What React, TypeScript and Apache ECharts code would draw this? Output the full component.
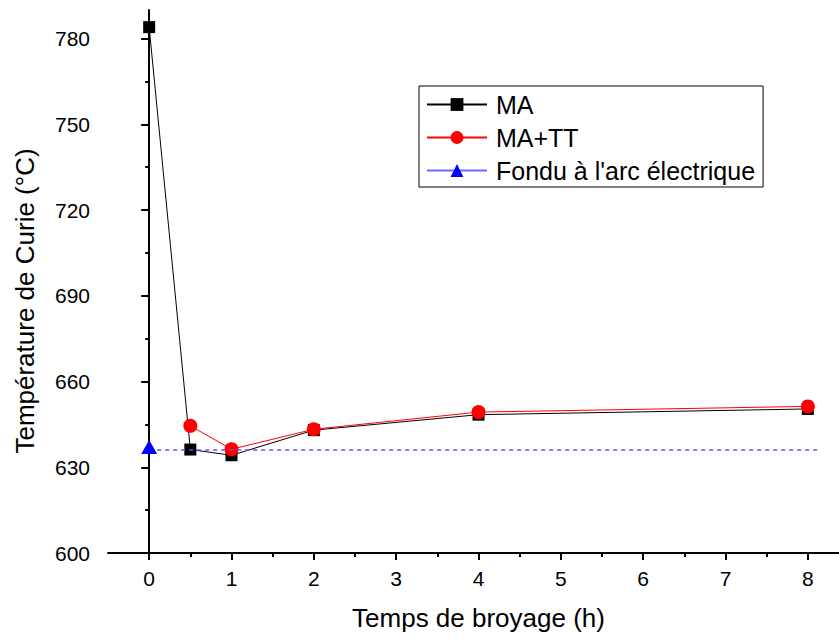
import React, { useEffect, useRef } from "react";
import * as echarts from "echarts";

const xTicks = [0, 1, 2, 3, 4, 5, 6, 7, 8];
const xMinorTicks = [0.5, 1.5, 2.5, 3.5, 4.5, 5.5, 6.5, 7.5];
const yTicks = [600, 630, 660, 690, 720, 750, 780];
const yMinorTicks = [615, 645, 675, 705, 735, 765];

const maX = [0, 0.5, 1, 2, 4, 8];
const maY = [784, 636.2, 634.2, 643, 648.4, 650.4];

const mattX = [0.5, 1, 2, 4, 8];
const mattY = [644.5, 636.3, 643.3, 649.3, 651.3];

const fonduX = [0, 8.12];
const fonduY = [636, 636];

const seriesNames = ["MA", "MA+TT", "Fondu à l'arc électrique"];
const xTitle = "Temps de broyage (h)";
const yTitle = "Température de Curie (°C)";

const FONT = "'Liberation Sans', Arial, sans-serif";

export default function App() {
  const ref = useRef<HTMLDivElement>(null);

  useEffect(() => {
    if (!ref.current) return;
    const chart = echarts.init(ref.current, null, { renderer: "svg" });

    const zip = (xs: number[], ys: number[]) => xs.map((x, i) => [x, ys[i]]);

    const axisLineStyle = { color: "#000", width: 2 };

    const option: any = {
      animation: false,
      backgroundColor: "#fff",
      textStyle: { fontFamily: FONT },
      grid: {
        left: 108,
        top: 10,
        right: -10,
        bottom: 86,
        containLabel: false,
        outerBoundsMode: "none",
      },
      legend: {
        left: 419,
        top: 86,
        orient: "vertical",
        itemWidth: 60,
        itemHeight: 16,
        itemGap: 8,
        padding: [6, 8, 4, 7],
        borderColor: "#000",
        borderWidth: 1,
        borderRadius: 0,
        backgroundColor: "#fff",
        textStyle: {
          fontFamily: FONT,
          fontSize: 25,
          lineHeight: 25,
          color: "#000",
          padding: [0, 0, 0, 4],
        },
        data: [
          { name: seriesNames[0] },
          { name: seriesNames[1] },
          { name: seriesNames[2], lineStyle: { type: "solid", color: "#6a6aff", width: 2 } },
        ],
      },
      xAxis: [
        {
          type: "value",
          min: -0.5,
          max: 8.5,
          position: "bottom",
          axisLine: { show: true, lineStyle: axisLineStyle },
          axisTick: {
            show: true,
            customValues: xTicks,
            length: 7,
            lineStyle: { color: "#000", width: 2 },
          },
          axisLabel: {
            customValues: xTicks,
            fontFamily: FONT,
            fontSize: 21,
            color: "#000",
            margin: 15,
          },
          splitLine: { show: false },
          name: xTitle,
          nameLocation: "middle",
          nameGap: 52,
          nameTextStyle: { fontFamily: FONT, fontSize: 26, color: "#000" },
        },
        {
          type: "value",
          min: -0.5,
          max: 8.5,
          position: "bottom",
          offset: 0,
          axisLine: { show: false },
          axisTick: {
            show: true,
            customValues: xMinorTicks,
            length: 4,
            lineStyle: { color: "#000", width: 2 },
          },
          axisLabel: { show: false },
          splitLine: { show: false },
        },
      ],
      yAxis: [
        {
          type: "value",
          min: 600,
          max: 790,
          position: "left",
          axisLine: { show: true, lineStyle: axisLineStyle },
          axisTick: {
            show: true,
            customValues: yTicks,
            length: 8,
            lineStyle: { color: "#000", width: 2 },
          },
          axisLabel: {
            customValues: yTicks,
            fontFamily: FONT,
            fontSize: 21,
            color: "#000",
            margin: 18,
          },
          splitLine: { show: false },
        },
        {
          type: "value",
          min: 600,
          max: 790,
          position: "left",
          offset: 0,
          axisLine: { show: false },
          axisTick: {
            show: true,
            customValues: yMinorTicks,
            length: 4,
            lineStyle: { color: "#000", width: 2 },
          },
          axisLabel: { show: false },
          splitLine: { show: false },
        },
      ],
      graphic: [
        {
          type: "text",
          x: 25,
          y: 301,
          rotation: Math.PI / 2,
          style: {
            text: yTitle,
            font: `26px ${FONT}`,
            fill: "#000",
            textAlign: "center",
            textVerticalAlign: "middle",
          },
        },
      ],
      series: [
        {
          name: seriesNames[0],
          type: "line",
          xAxisIndex: 0,
          yAxisIndex: 0,
          data: zip(maX, maY),
          symbol: "rect",
          symbolSize: 12,
          itemStyle: { color: "#000" },
          lineStyle: { color: "#000", width: 1 },
          z: 2,
        },
        {
          name: seriesNames[1],
          type: "line",
          xAxisIndex: 0,
          yAxisIndex: 0,
          data: zip(mattX, mattY),
          symbol: "circle",
          symbolSize: 14,
          itemStyle: { color: "#ff0000" },
          lineStyle: { color: "#ff0000", width: 1 },
          z: 3,
        },
        {
          name: seriesNames[2],
          type: "line",
          xAxisIndex: 0,
          yAxisIndex: 0,
          data: zip(fonduX, fonduY).map((p, i) =>
            i === 0 ? { value: p } : { value: p, symbol: "none" }
          ),
          symbol: "triangle",
          symbolSize: [16, 14],
          symbolOffset: [0, -3],
          itemStyle: { color: "#0000ff" },
          lineStyle: { color: "#5a5aff", width: 1.5, type: [4, 4] },
          z: 4,
        },
      ],
    };

    chart.setOption(option);
    return () => chart.dispose();
  }, []);

  return (
    <div
      ref={ref}
      style={{ position: "fixed", left: 0, top: 0, width: "839px", height: "639px" }}
    />
  );
}
